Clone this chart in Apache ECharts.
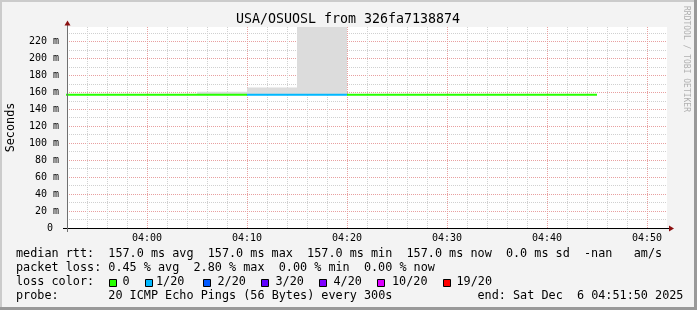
<!DOCTYPE html>
<html><head><meta charset="utf-8">
<script src="https://cdn.jsdelivr.net/npm/echarts@6/dist/echarts.min.js"></script>
<style>html,body{margin:0;padding:0;background:#f3f3f3}#c{width:697px;height:310px}</style>
</head><body><div id="c"></div>
<script>
// ---- data (time = minutes since midnight, 5-minute step END times) ----
const stepTimes = [230, 235, 240, 245, 250, 255, 260, 265, 270, 275, 280, 285];
const medianRtt = [157, 157, 157, 157, 157, 157, 157, 157, 157, 157, 157, 157];   // ms
const pingMin   = [157, 157, 157, 157, 157, 157, 157, 157, 157, 157, 157, 157];   // ms
const pingMax   = [157, 157, 157, 157, 160.7, 165.7, 300, 157, 157, 157, 157, 157]; // ms
const lossCount = [0, 0, 0, 0, 0, 1, 1, 0, 0, 0, 0, 0];   // lost pings out of 20
const lossLevels = [0, 1, 2, 3, 4, 10, 19];
const lossLabels = ['0', '1/20', '2/20', '3/20', '4/20', '10/20', '19/20'];
const lossColors = ['#26ff00', '#00b8ff', '#0059ff', '#5e00ff', '#7e00ff', '#dd00ff', '#ff0000'];
const xTickLabels = ['04:00', '04:10', '04:20', '04:30', '04:40', '04:50'];
const xRange = [232, 292];
const yRange = [0, 237];
const titleText = 'USA/OSUOSL from 326fa7138874';
const rttStats = ['median rtt:', '157.0 ms avg', '157.0 ms max', '157.0 ms min', '157.0 ms now', '0.0 ms sd', '-nan', 'am/s'];
const lossStats = ['packet loss:', '0.45 % avg', '2.80 % max', '0.00 % min', '0.00 % now'];
const probeInfo = ['probe:', '20 ICMP Echo Pings (56 Bytes) every 300s', 'end: Sat Dec  6 04:51:50 2025'];

// ---- layout ----
const FONT = '"DejaVu Sans Mono", monospace';
const LFONT = '11.8px ' + FONT;
const CW = 7.1;           // monospace advance at 11.8px
const GRAY = '#d0d0d0', RED = '#e8a0a0';
const rttCols = [0, 13, 27, 41, 55, 69, 80, 87];
const lossCols = [0, 13, 25, 37, 49];
const probeCols = [0, 13, 65];
const boxX = [109, 145, 203, 261, 319, 377, 443];
const boxTextX = [122.5, 156, 217.5, 275.5, 333.5, 392, 456.5];
const rowY = [254, 268.3, 282.3, 296];

function fmtTime(v) {
  const h = Math.floor(v / 60), m = v % 60;
  return String(h).padStart(2, '0') + ':' + String(m).padStart(2, '0');
}

const chart = echarts.init(document.getElementById('c'), null, {renderer: 'canvas'});

const series = [];
// smoke: range between min and max ping per step, drawn through the axes' scales
const smokeData = [];
for (let i = 1; i < stepTimes.length; i++) smokeData.push([stepTimes[i - 1], stepTimes[i], pingMin[i], pingMax[i]]);
series.push({
  type: 'custom', silent: true, z: 1,
  encode: {x: [0, 1], y: [2, 3]},
  data: smokeData,
  renderItem: function (params, api) {
    const lo = api.value(2), hi = api.value(3);
    if (!(hi > lo)) return null;
    const p0 = api.coord([api.value(0), hi]);
    const p1 = api.coord([api.value(1), lo]);
    const cs = params.coordSys;
    const r = echarts.graphic.clipRectByRect(
      {x: p0[0], y: p0[1], width: p1[0] - p0[0], height: p1[1] - p0[1]},
      {x: cs.x, y: cs.y, width: cs.width, height: cs.height});
    if (!r) return null;
    return {type: 'rect', shape: r, style: {fill: '#dcdcdc'}};
  }
});
// median line coloured by loss; point at step start carries the step value (step: 'end')
lossLevels.forEach((lv, k) => {
  const data = stepTimes.map((t, j) => {
    const has = j + 1 < stepTimes.length && lossCount[j + 1] === lv;
    return [t, has ? medianRtt[j + 1] : null];
  });
  series.push({
    name: lossLabels[k], type: 'line', step: 'end', symbol: 'none', silent: true, z: 3,
    data: data, connectNulls: false,
    lineStyle: {color: lossColors[k], width: 2}
  });
});

const graphic = [];
function txt(x, y, text, extra) {
  const el = {type: 'text', x: x, y: y, silent: true, z: 10,
    style: Object.assign({text: text, fill: '#000', font: LFONT, align: 'left', verticalAlign: 'middle'}, extra || {})};
  graphic.push(el);
  return el;
}
// frame
graphic.push({type: 'rect', shape: {x: 0, y: 0, width: 697, height: 2}, style: {fill: '#cbcbcb'}, silent: true});
graphic.push({type: 'rect', shape: {x: 0, y: 0, width: 2, height: 310}, style: {fill: '#cbcbcb'}, silent: true});
graphic.push({type: 'rect', shape: {x: 694, y: 0, width: 3, height: 310}, style: {fill: '#999999'}, silent: true});
graphic.push({type: 'rect', shape: {x: 0, y: 307, width: 697, height: 3}, style: {fill: '#999999'}, silent: true});
// title
txt(348, 19.5, titleText, {align: 'center', font: '13.3px ' + FONT});
// y name
txt(10.5, 127.5, 'Seconds', {align: 'center'}).rotation = Math.PI / 2;
// watermark
txt(686.5, 59, 'RRDTOOL / TOBI OETIKER', {align: 'center', font: '8px ' + FONT, fill: '#b0b0b0'}).rotation = -Math.PI / 2;
// axis lines with overhang and arrows
graphic.push({type: 'line', shape: {x1: 63, y1: 228.5, x2: 671, y2: 228.5}, style: {stroke: '#000', lineWidth: 1}, silent: true, z: 5});
graphic.push({type: 'line', shape: {x1: 67.5, y1: 232, x2: 67.5, y2: 23}, style: {stroke: '#707070', lineWidth: 1}, silent: true, z: 5});
graphic.push({type: 'polygon', shape: {points: [[64.5, 25.5], [70.5, 25.5], [67.5, 20.5]]}, style: {fill: '#8b1010'}, silent: true, z: 6});
graphic.push({type: 'polygon', shape: {points: [[669, 225.5], [669, 231.5], [674, 228.5]]}, style: {fill: '#8b1010'}, silent: true, z: 6});
// legend rows
rttStats.forEach((s, i) => txt(16 + rttCols[i] * CW, rowY[0], s));
lossStats.forEach((s, i) => txt(16 + lossCols[i] * CW, rowY[1], s));
txt(16, rowY[2], 'loss color:');
lossLabels.forEach((s, i) => {
  graphic.push({type: 'rect', shape: {x: boxX[i] + 0.5, y: 279.5, width: 7, height: 7},
    style: {fill: lossColors[i], stroke: '#000', lineWidth: 1}, silent: true, z: 10});
  txt(boxTextX[i], rowY[2], s);
});
probeInfo.forEach((s, i) => txt(16 + probeCols[i] * CW, rowY[3], s));

chart.setOption({
  backgroundColor: '#f3f3f3',
  animation: false,
  grid: {left: 67, right: 30, top: 27, bottom: 82, containLabel: false, show: true, backgroundColor: '#ffffff', borderWidth: 0},
  xAxis: {
    type: 'value', min: xRange[0], max: xRange[1], interval: 2,
    axisLine: {show: false},
    axisTick: {show: false},
    axisLabel: {
      interval: 0, margin: 5, color: '#000', fontFamily: FONT, fontSize: 10,
      formatter: v => { const s = fmtTime(v); return xTickLabels.indexOf(s) >= 0 ? s : ''; }
    },
    splitLine: {show: true, showMaxLine: false, lineStyle: {color: [GRAY, GRAY, GRAY, GRAY, RED], type: [1, 1], width: 1}}
  },
  yAxis: {
    type: 'value', min: yRange[0], max: yRange[1], interval: 10,
    axisLine: {show: false},
    axisTick: {show: false},
    axisLabel: {
      interval: 0, margin: 8, color: '#000', fontFamily: FONT, fontSize: 10,
      formatter: v => (v % 20 !== 0) ? '' : (v === 0 ? '0 ' : v + ' m')
    },
    splitLine: {show: true, showMaxLine: false, lineStyle: {color: [RED, GRAY], type: [1, 1], width: 1}}
  },
  series: series,
  graphic: graphic
});
</script></body></html>
